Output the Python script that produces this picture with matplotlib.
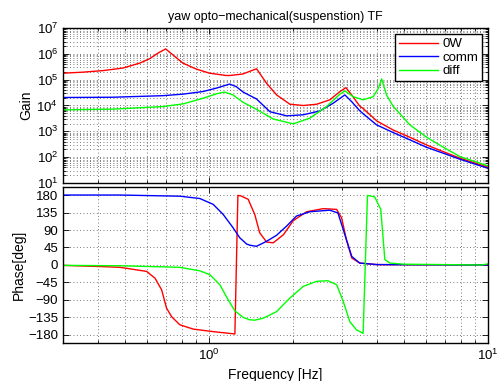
import matplotlib
matplotlib.use("Agg")
import matplotlib.pyplot as plt
from matplotlib.ticker import LogLocator, NullFormatter, FixedLocator

plt.rcParams["font.family"] = ["Liberation Sans", "DejaVu Sans"]
plt.rcParams["mathtext.default"] = "regular"

TITLE = "yaw opto\u2212mechanical(suspenstion) TF"
LABELS = ["0W", "comm", "diff"]
COLORS = ["#ff0000", "#0000ff", "#00ff00"]

# gain
f_gain_0w = [0.3, 0.353, 0.417, 0.492, 0.565, 0.613, 0.657, 0.70, 0.743, 0.807, 0.901, 1.006,
             1.154, 1.189, 1.324, 1.40, 1.482, 1.61, 1.748, 1.951, 2.178, 2.434, 2.713, 2.948,
             3.098, 3.248, 3.47, 3.57, 4.0, 4.58, 5.25, 6.03, 6.93, 7.94, 10.0]
gain_0w = [1.78e5, 1.95e5, 2.24e5, 2.82e5, 4.37e5, 6.46e5, 1.07e6, 1.55e6, 9.1e5, 4.37e5, 2.57e5, 1.78e5,
           1.45e5, 1.45e5, 1.66e5, 2.1e5, 2.63e5, 7.2e4, 2.57e4, 1.12e4, 1.0e4, 1.12e4, 1.66e4, 3.47e4,
           4.9e4, 2.57e4, 9.5e3, 7.6e3, 2.5e3, 1.12e3, 589, 295, 162, 91, 41]

f_gain_comm = [0.3, 0.453, 0.684, 0.807, 0.952, 1.062, 1.186, 1.253, 1.327, 1.482, 1.654, 1.898,
               2.178, 2.50, 2.79, 3.07, 3.248, 3.47, 3.57, 3.99, 4.58, 5.25, 6.03, 6.93, 7.94, 10.0]
gain_comm = [2.04e4, 2.09e4, 2.4e4, 2.75e4, 3.47e4, 4.68e4, 6.76e4, 5.37e4, 3.3e4, 1.78e4, 5.75e3, 3.98e3,
             4.37e3, 6.17e3, 1.23e4, 2.57e4, 1.41e4, 6.3e3, 4.8e3, 1.78e3, 891, 468, 240, 141, 83, 37]

f_gain_diff = [0.3, 0.453, 0.684, 0.807, 0.952, 1.062, 1.138, 1.219, 1.327, 1.482, 1.70, 2.005,
               2.30, 2.64, 2.948, 3.07, 3.29, 3.57, 3.88, 4.05, 4.16, 4.33, 4.58, 4.70, 5.25,
               6.03, 6.93, 7.94, 10.0]
gain_diff = [6.76e3, 7.24e3, 9.1e3, 1.15e4, 1.9e4, 2.82e4, 3.31e4, 2.57e4, 1.32e4, 7.1e3, 3.0e3, 1.95e3,
             3.24e3, 9.1e3, 2.75e4, 3.7e4, 2.19e4, 1.66e4, 2.19e4, 4.68e4, 1.07e5, 2.57e4, 9.1e3, 6.76e3, 1.78e3,
             589, 240, 105, 46]

# phase [deg]
f_phase_0w = [0.3, 0.407, 0.48, 0.598, 0.641, 0.677, 0.705, 0.735, 0.787, 0.879, 1.036, 1.239,
              1.27, 1.30, 1.383, 1.40, 1.46, 1.52, 1.61, 1.70, 1.85, 2.005, 2.24, 2.57, 2.87,
              2.99, 3.11, 3.25, 3.47, 4.0, 10.0]
phase_0w = [-1, -4, -6, -16.5, -34, -64, -111, -133, -154, -165, -171.5, -177.5,
            179, 178, 169, 160, 130, 83, 59, 57, 78, 114, 137, 145, 143,
            121, 65, 18, 5, 1, 0]

f_phase_comm = [0.3, 0.48, 0.787, 0.928, 1.036, 1.125, 1.22, 1.29, 1.365, 1.40, 1.48, 1.61,
                1.748, 1.898, 2.06, 2.30, 2.71, 2.90, 3.07, 3.25, 3.47, 4.0, 10.0]
phase_comm = [180, 180, 177, 171, 156, 130, 96, 70, 54, 51, 48, 61,
              76.5, 100, 126, 137, 141, 134, 78, 22, 5, 1, 0]

f_phase_diff = [0.3, 0.48, 0.787, 0.928, 1.008, 1.095, 1.173, 1.239, 1.327, 1.40, 1.46, 1.565,
                1.748, 1.951, 2.178, 2.434, 2.67, 2.87, 3.03, 3.20, 3.38, 3.57, 3.70, 3.93,
                4.13, 4.27, 4.45, 5.0, 9.5, 10.0]
phase_diff = [-1, -2, -6, -15, -25, -51, -90, -118, -135, -141, -142, -137,
              -120, -85, -55, -42, -40.5, -51, -94, -146, -167, -176, 179, 175,
              143, 14, 5, 2, 0, 3]

gain_series = [(f_gain_0w, gain_0w), (f_gain_comm, gain_comm), (f_gain_diff, gain_diff)]
phase_series = [(f_phase_0w, phase_0w), (f_phase_comm, phase_comm), (f_phase_diff, phase_diff)]


def style_axes(ax):
    ax.tick_params(which="both", direction="in", top=True, right=True,
                   labelsize=9.5, width=0.6, color="black")
    ax.tick_params(which="major", length=4)
    ax.tick_params(which="minor", length=2)
    for s in ax.spines.values():
        s.set_linewidth(1.0)


fig = plt.figure(figsize=(4.97, 3.81), dpi=100, facecolor="white")
ax1 = fig.add_axes([0.1268, 0.5197, 0.855, 0.4068])
ax2 = fig.add_axes([0.1268, 0.1005, 0.855, 0.408])

grid_kw = dict(color="0.3", linestyle=(0, (1, 3)), linewidth=0.6)

for (f, g), lab, c in zip(gain_series, LABELS, COLORS):
    ax1.plot(f, g, color=c, lw=1.0, label=lab)
ax1.set_xscale("log")
ax1.set_yscale("log")
ax1.set_xlim(0.3, 10)
ax1.set_ylim(1e1, 1e7)
ax1.yaxis.set_major_locator(LogLocator(base=10, numticks=10))
ax1.yaxis.set_minor_locator(LogLocator(base=10, subs=range(2, 10), numticks=20))
ax1.yaxis.set_minor_formatter(NullFormatter())
ax1.xaxis.set_major_formatter(NullFormatter())
ax1.xaxis.set_minor_formatter(NullFormatter())
ax1.grid(True, which="both", **grid_kw)
ax1.set_ylabel("Gain", fontsize=10, labelpad=2)
ax1.set_title(TITLE, fontsize=9, pad=6)
style_axes(ax1)
leg = ax1.legend(loc="upper right", fontsize=9.5, frameon=True, fancybox=False,
                 edgecolor="black", framealpha=1, handlelength=3.0, handletextpad=0.3,
                 labelspacing=0.1, borderpad=0.3, borderaxespad=0.45)
leg.get_frame().set_linewidth(1.0)

for (f, p), c in zip(phase_series, COLORS):
    ax2.plot(f, p, color=c, lw=1.0)
ax2.set_xscale("log")
ax2.set_xlim(0.3, 10)
ax2.set_ylim(-200, 200)
ax2.yaxis.set_major_locator(FixedLocator(range(-180, 181, 45)))
ax2.xaxis.set_minor_formatter(NullFormatter())
ax2.grid(True, which="major", axis="y", **grid_kw)
ax2.grid(True, which="both", axis="x", **grid_kw)
ax2.set_ylabel("Phase[deg]", fontsize=10, labelpad=2)
ax2.set_xlabel("Frequency [Hz]", fontsize=10, labelpad=4)
style_axes(ax2)

fig.savefig("out.png", dpi=100, facecolor="white")
